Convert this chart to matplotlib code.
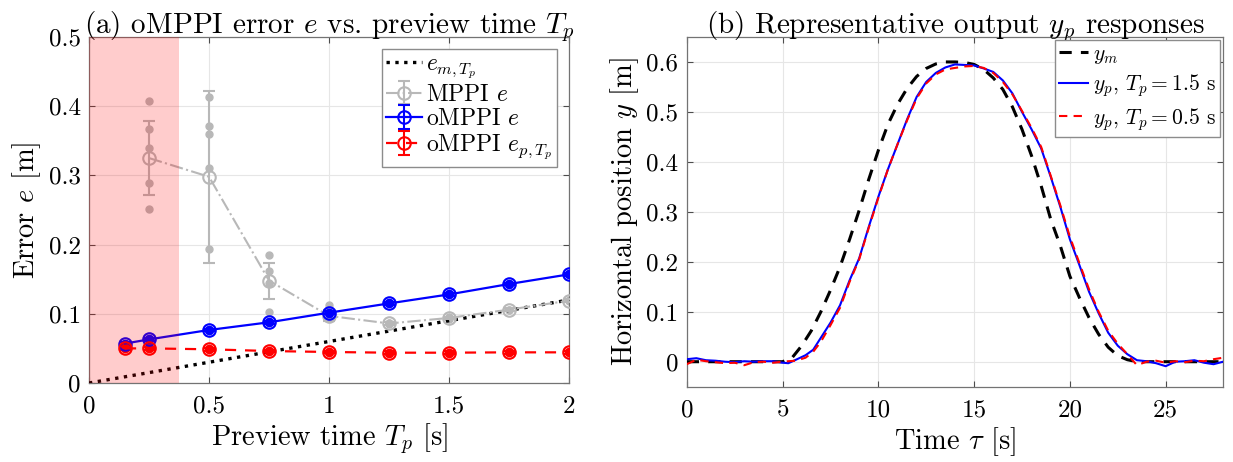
import matplotlib
matplotlib.use("Agg")
import matplotlib.pyplot as plt

plt.rcParams['font.family'] = 'serif'
plt.rcParams['font.serif'] = ['cmr10', 'DejaVu Serif']
plt.rcParams['mathtext.fontset'] = 'cm'
plt.rcParams['axes.formatter.use_mathtext'] = True
plt.rcParams['axes.unicode_minus'] = False

# ---------------- data: panel (a) ----------------
tp_omppi = [0.15, 0.25, 0.5, 0.75, 1.0, 1.25, 1.5, 1.75, 2.0]
omppi_e = [0.057, 0.063, 0.0766, 0.0877, 0.1016, 0.115, 0.128, 0.143, 0.157]
omppi_e_std = [0.002, 0.002, 0.002, 0.002, 0.002, 0.002, 0.002, 0.002, 0.002]
omppi_ep = [0.050, 0.050, 0.0487, 0.0462, 0.0448, 0.0438, 0.0438, 0.0443, 0.0443]
omppi_ep_std = [0.002, 0.002, 0.002, 0.002, 0.002, 0.002, 0.002, 0.002, 0.002]

tp_mppi = [0.25, 0.5, 0.75, 1.0, 1.25, 1.5, 1.75, 2.0]
mppi_e = [0.325, 0.298, 0.148, 0.097, 0.086, 0.094, 0.106, 0.119]
mppi_e_std = [0.053, 0.124, 0.026, 0.008, 0.002, 0.002, 0.002, 0.002]

mppi_trial_tp = [0.25, 0.25, 0.25, 0.25, 0.25,
                 0.5, 0.5, 0.5, 0.5, 0.5,
                 0.75, 0.75, 0.75, 0.75,
                 1.0, 1.0, 1.0,
                 1.25, 1.25, 1.25, 1.5, 1.5, 1.5, 1.75, 1.75, 2.0, 2.0]
mppi_trial_e = [0.4075, 0.3675, 0.339, 0.2895, 0.2514,
                0.4138, 0.372, 0.3594, 0.310, 0.193,
                0.185, 0.162, 0.144, 0.103,
                0.113, 0.105, 0.094,
                0.086, 0.087, 0.085, 0.094, 0.095, 0.093, 0.106, 0.105, 0.120, 0.118]

em_tp = [0.0, 2.0]
em_values = [0.0, 0.12]

unstable_limit = 0.375

xt_a = [0, 0.5, 1, 1.5, 2]
xt_a_labels = ['0', '0.5', '1', '1.5', '2']
yt_a = [0, 0.1, 0.2, 0.3, 0.4, 0.5]
yt_a_labels = ['0', '0.1', '0.2', '0.3', '0.4', '0.5']

# ---------------- data: panel (b) ----------------
t_m = [0, 5, 5.5, 6, 6.5, 7, 7.5, 8, 8.5, 9, 9.5, 10, 10.5, 11, 11.5, 12, 12.5, 13, 13.5,
       14, 14.5, 15, 15.5, 16, 16.5, 17, 17.5, 18, 18.5, 19, 19.5, 20, 20.5, 21, 21.5, 22,
       22.5, 23, 23.5, 28]
y_m = [0, 0, 0.008, 0.032, 0.062, 0.1, 0.143, 0.19, 0.245, 0.303, 0.365, 0.423, 0.475,
       0.515, 0.547, 0.571, 0.587, 0.596, 0.6, 0.6, 0.599, 0.595, 0.585, 0.568, 0.545, 0.51,
       0.465, 0.412, 0.352, 0.285, 0.232, 0.171, 0.128, 0.088, 0.055, 0.029, 0.012, 0.004,
       0.0, 0.0]

t_p = [0, 0.5, 1.0, 1.5, 2.0, 2.5, 3.0, 3.5, 4.0, 4.5, 5.0, 5.3, 5.7, 6.2, 6.6, 7.0, 7.5,
       8.0, 8.5, 9.0, 9.5, 10.0, 10.5, 11.0, 11.5, 12.0, 12.5, 13.0, 13.5, 14.0, 14.5, 15.0,
       15.5, 16.0, 16.5, 17.0, 17.5, 18.0, 18.5, 19.0, 19.5, 20.0, 20.5, 21.0, 21.5, 22.0,
       22.5, 23.0, 23.5, 24.0, 24.5, 25.0, 25.5, 26.0, 26.5, 27.0, 27.5, 28.0]
y_p15 = [0.005, 0.007, 0.003, 0.002, 0.0, -0.001, 0.001, 0.0, 0.001, 0.001, -0.002, -0.003,
         0.004, 0.013, 0.024, 0.048, 0.078, 0.113, 0.163, 0.207, 0.27, 0.33, 0.385, 0.435,
         0.485, 0.53, 0.56, 0.578, 0.589, 0.595, 0.594, 0.593, 0.587, 0.58, 0.563, 0.537,
         0.50, 0.465, 0.427, 0.37, 0.31, 0.245, 0.193, 0.14, 0.097, 0.058, 0.032, 0.015,
         0.003, 0.001, -0.003, -0.009, 0.0, 0.001, 0.003, -0.002, -0.005, 0.0]
y_p05 = [-0.005, 0.004, 0.001, -0.001, -0.003, -0.002, -0.007, -0.001, 0.0, -0.002, 0.0,
         0.001, 0.002, 0.008, 0.02, 0.04, 0.073, 0.108, 0.16, 0.205, 0.268, 0.328, 0.385,
         0.435, 0.483, 0.527, 0.557, 0.575, 0.585, 0.588, 0.591, 0.592, 0.588, 0.578, 0.56,
         0.535, 0.502, 0.468, 0.43, 0.372, 0.313, 0.25, 0.197, 0.145, 0.1, 0.062, 0.036,
         0.015, -0.007, 0.0, 0.002, -0.002, 0.001, -0.001, 0.002, 0.001, 0.005, 0.008]

xt_b = [0, 5, 10, 15, 20, 25]
xt_b_labels = ['0', '5', '10', '15', '20', '25']
yt_b = [0, 0.1, 0.2, 0.3, 0.4, 0.5, 0.6]
yt_b_labels = ['0', '0.1', '0.2', '0.3', '0.4', '0.5', '0.6']

# ---------------- figure ----------------
fig = plt.figure(figsize=(12.33, 4.62), dpi=100)
axA = fig.add_axes([0.0722, 0.171, 0.3893, 0.749])
axB = fig.add_axes([0.557, 0.163, 0.435, 0.757])

GRAY = (0.72, 0.72, 0.72)
SPINE = '0.45'
TITLE_FS = 21
LABEL_FS = 20.5
TICK_FS = 18


def style(ax):
    ax.grid(True, color='0.9', lw=0.8)
    ax.set_axisbelow(True)
    ax.tick_params(direction='in', top=True, right=True, length=4, width=0.8,
                   labelsize=TICK_FS, color='0.3')
    ax.tick_params(axis='x', pad=9)
    ax.tick_params(axis='y', pad=6)
    for s in ax.spines.values():
        s.set_color(SPINE)
        s.set_linewidth(0.9)


# panel (a)
style(axA)
axA.plot(em_tp, em_values, ':', color='black', lw=2.4, label=r'$e_{m,T_p}$', zorder=3)
axA.plot(mppi_trial_tp, mppi_trial_e, 'o', color=GRAY, ms=5, zorder=2)
axA.errorbar(tp_mppi, mppi_e, yerr=mppi_e_std, fmt='-.o', color=GRAY, ms=9, mfc='none',
             mew=1.5, lw=1.5, capsize=4, capthick=1.5, elinewidth=1.5,
             label=r'MPPI $e$', zorder=3)
axA.plot(tp_omppi, omppi_e, 'o', color='blue', ms=6, zorder=4)
axA.errorbar(tp_omppi, omppi_e, yerr=omppi_e_std, fmt='-o', color='blue', ms=9,
             mfc='none', mew=1.5, lw=1.6, capsize=4, capthick=1.5, elinewidth=1.5,
             label=r'oMPPI $e$', zorder=4)
axA.plot(tp_omppi, omppi_ep, 'o', color='red', ms=6, zorder=4)
axA.errorbar(tp_omppi, omppi_ep, yerr=omppi_ep_std, fmt='--o', color='red', ms=9,
             mfc='none', mew=1.5, lw=1.6, capsize=4, capthick=1.5, elinewidth=1.5,
             dashes=(5, 4), label=r'oMPPI $e_{p,T_p}$', zorder=4)
axA.axvspan(0, unstable_limit, color='red', alpha=0.2, lw=0, zorder=6)
axA.set_xlim(0, 2)
axA.set_ylim(0, 0.5)
axA.set_xticks(xt_a)
axA.set_xticklabels(xt_a_labels)
axA.set_yticks(yt_a)
axA.set_yticklabels(yt_a_labels)
axA.set_xlabel(r'Preview time $T_p$ [s]', fontsize=LABEL_FS, labelpad=3)
axA.set_ylabel(r'Error $e$ [m]', fontsize=LABEL_FS, labelpad=4)
axA.set_title(r'(a) oMPPI error $e$ vs. preview time $T_p$', fontsize=TITLE_FS, pad=3)
legA = axA.legend(loc='upper right', fontsize=17, fancybox=False, edgecolor='0.55',
                  framealpha=1, borderpad=0.2, handlelength=1.5, handletextpad=0.2,
                  labelspacing=0.1, borderaxespad=0.5)
legA.get_frame().set_linewidth(1.0)
legA.set_zorder(10)

# panel (b)
style(axB)
axB.plot(t_m, y_m, '--', color='black', lw=2.2, dashes=(4, 3), label=r'$y_m$', zorder=3)
axB.plot(t_p, y_p15, '-', color='blue', lw=1.5, label=r'$y_p$, $T_p = 1.5$ s', zorder=4)
axB.plot(t_p, y_p05, '--', color='red', lw=1.5, dashes=(4, 3),
         label=r'$y_p$, $T_p = 0.5$ s', zorder=5)
axB.set_xlim(0, 28)
axB.set_ylim(-0.05, 0.65)
axB.set_xticks(xt_b)
axB.set_xticklabels(xt_b_labels)
axB.set_yticks(yt_b)
axB.set_yticklabels(yt_b_labels)
axB.set_xlabel(r'Time $\tau$ [s]', fontsize=LABEL_FS, labelpad=3)
axB.set_ylabel(r'Horizontal position $y$ [m]', fontsize=LABEL_FS, labelpad=4)
axB.set_title(r'(b) Representative output $y_p$ responses', fontsize=TITLE_FS, pad=3)
legB = axB.legend(loc='upper right', fontsize=15.5, fancybox=False, edgecolor='0.55',
                  framealpha=1, borderpad=0.2, handlelength=1.35, handletextpad=0.2,
                  labelspacing=0.3, borderaxespad=0.15)
legB.get_frame().set_linewidth(1.0)

fig.savefig('out.png', dpi=100)
